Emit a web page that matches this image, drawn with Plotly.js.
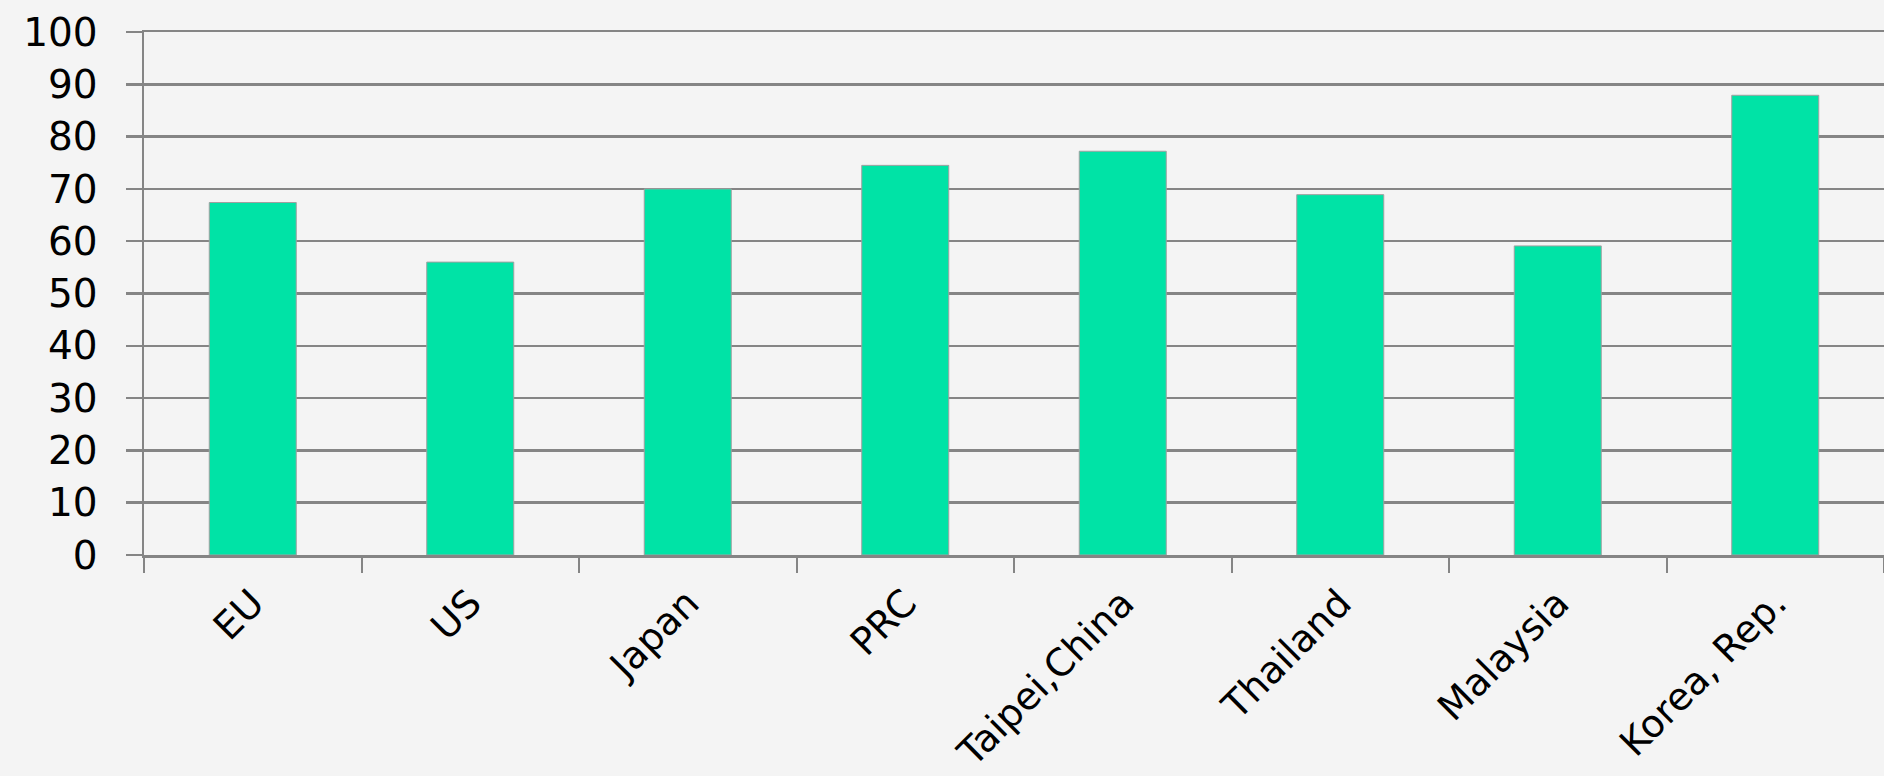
<!DOCTYPE html>
<html>
<head>
<meta charset="utf-8">
<script src="https://cdn.plot.ly/plotly-3.0.1.min.js"></script>
<style>
  html, body { margin: 0; padding: 0; background: #f4f4f4; }
  #chart { width: 1884px; height: 776px; }
</style>
</head>
<body>
<div id="chart"></div>
<script>
const categories = ["EU", "US", "Japan", "PRC", "Taipei,China", "Thailand", "Malaysia", "Korea, Rep."];
const values = [67.4, 56.0, 70.0, 74.5, 77.2, 68.9, 59.1, 87.9];
const yTickValues = [0, 10, 20, 30, 40, 50, 60, 70, 80, 90, 100];

const trace = {
  type: "bar",
  x: categories,
  y: values,
  width: 0.4,
  marker: { color: "#00e3a6", line: { color: "#a0a0a0", width: 1 } },
  hoverinfo: "x+y"
};

const gridColor = "#858585";

const layout = {
  width: 1884,
  height: 776,
  margin: { l: 144, r: 0, t: 32, b: 221, pad: 0 },
  paper_bgcolor: "#f4f4f4",
  plot_bgcolor: "#f4f4f4",
  showlegend: false,
  font: { family: "DejaVu Sans, Verdana, sans-serif", color: "#000000" },
  xaxis: {
    type: "category",
    automargin: false,
    showgrid: false,
    showline: true,
    mirror: true,
    linecolor: gridColor,
    linewidth: 2.5,
    ticks: "outside",
    tickson: "boundaries",
    ticklen: 15,
    tickwidth: 2,
    tickcolor: gridColor,
    tickangle: -45,
    ticklabelstandoff: 8,
    tickfont: { size: 38, family: "DejaVu Sans, Verdana, sans-serif", color: "#000000" },
    zeroline: false
  },
  yaxis: {
    range: [0, 100],
    automargin: false,
    tickmode: "array",
    tickvals: yTickValues,
    ticktext: yTickValues.map(String),
    showgrid: true,
    gridcolor: gridColor,
    gridwidth: 2.5,
    showline: true,
    linecolor: gridColor,
    linewidth: 2.5,
    ticks: "outside",
    ticklen: 16,
    tickwidth: 2.5,
    tickcolor: gridColor,
    ticklabelstandoff: 20,
    tickfont: { size: 39, family: "DejaVu Sans, Verdana, sans-serif", color: "#000000" },
    zeroline: false,
    fixedrange: true
  }
};

Plotly.newPlot("chart", [trace], layout, { displayModeBar: false, staticPlot: true });
</script>
</body>
</html>
